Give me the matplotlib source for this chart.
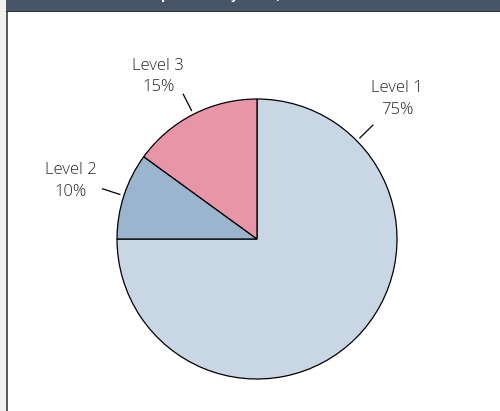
import numpy as np
import matplotlib
matplotlib.use("Agg")
import matplotlib.pyplot as plt
from matplotlib.patches import Rectangle

# proficiency shares
levels = ["Level 1", "Level 2", "Level 3"]
shares = [75, 10, 15]
title_lead = "Students at each "
title_rest = "proficiency level, 2012"

colors = ["#c9d7e4", "#9bb5ce", "#e895a8"]
# Level 1 label sits in the upper right instead of at its wedge middle
label_angle_override = {"Level 1": 44.5}
# label offset from the end of its leader line, in pixels (right, up)
label_offset = {"Level 1": (24, 26), "Level 2": (-32, 8), "Level 3": (-25, 18)}

W, H = 500, 411
cx, cy, R = 257, 239, 140

fig = plt.figure(figsize=(W / 100, H / 100), dpi=100)
fig.patch.set_facecolor("white")

# page furniture: grey margin, left rule, header band
fig.patches.append(Rectangle((0, 0), 6 / W, 1, transform=fig.transFigure,
                             facecolor="#f2f1ed", edgecolor="none", zorder=0))
fig.patches.append(Rectangle((6 / W, 0), 1.5 / W, 1, transform=fig.transFigure,
                             facecolor="#5a5a5a", edgecolor="none", zorder=1))
fig.patches.append(Rectangle((6 / W, 1 - 11 / H), 1, 11 / H, transform=fig.transFigure,
                             facecolor="#475566", edgecolor="none", zorder=1))
fig.patches.append(Rectangle((6 / W, 1 - 12.5 / H), 1, 1.5 / H, transform=fig.transFigure,
                             facecolor="#2c3641", edgecolor="none", zorder=1))

# header title runs off the top edge; place it so "proficiency" starts at x=167
title_kw = dict(color="white", fontsize=9, fontweight="bold", va="baseline", zorder=2)
renderer = fig.canvas.get_renderer()
probe = fig.text(0, 0, title_lead.replace(" ", "_"), **title_kw)
lead_w = probe.get_window_extent(renderer).width
probe.remove()
fig.text((167 - lead_w) / W, 1 + 1.0 / H, title_lead + title_rest, ha="left", **title_kw)

ax = fig.add_axes([0, 0, 1, 1])
ax.axis("off")
ax.patch.set_alpha(0)

wedges, _ = ax.pie(shares, colors=colors, startangle=90, counterclock=False,
                   radius=1.0, wedgeprops=dict(edgecolor="black", linewidth=0.9))

# pixel-exact placement: centre at (cx, cy), radius R
ax.set_aspect("auto")
ax.set_xlim(-cx / R, (W - cx) / R)
ax.set_ylim(-(H - cy) / R, cy / R)

for w, name, val in zip(wedges, levels, shares):
    ang = label_angle_override.get(name, (w.theta1 + w.theta2) / 2)
    a = np.deg2rad(ang)
    ux, uy = np.cos(a), np.sin(a)
    ax.plot([1.03 * ux, 1.16 * ux], [1.03 * uy, 1.16 * uy], color="black", lw=0.9)
    dx, dy = label_offset[name]
    ax.annotate(f"{name}\n{val}%", xy=(1.16 * ux, 1.16 * uy), xytext=(dx * 0.72, dy * 0.72),
                textcoords="offset points", ha="center", va="center",
                fontsize=12, color="#262626", family=["Open Sans", "DejaVu Sans"],
                fontweight="light", linespacing=1.45)

fig.savefig("out.png", dpi=100)
